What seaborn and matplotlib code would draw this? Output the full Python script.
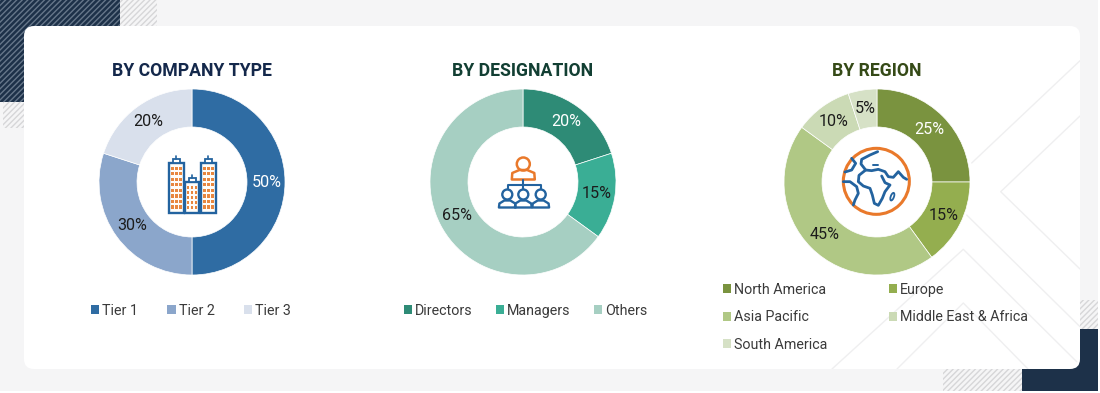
import matplotlib
matplotlib.use("Agg")
import matplotlib.pyplot as plt
import seaborn as sns
from matplotlib.patches import Rectangle, FancyBboxPatch, Circle, Ellipse, Patch, Polygon
from matplotlib.lines import Line2D

# ---- data ----
company_labels = ["Tier 1", "Tier 2", "Tier 3"]
company_values = [50, 30, 20]
designation_labels = ["Directors", "Managers", "Others"]
designation_values = [20, 15, 65]
region_labels = ["North America", "Europe", "Asia Pacific", "Middle East & Africa", "South America"]
region_values = [25, 15, 45, 10, 5]

company_colors = ["#2f6ca3", "#8ba6cb", "#d9e0ec"]
designation_colors = ["#2e8b76", "#3aae95", "#a6cfc2"]
region_colors = ["#7a933f", "#94ae4f", "#b0c885", "#cbdab5", "#d6e1c6"]

sns.set_theme(style="white")
FONT = "Roboto"
plt.rcParams["font.family"] = [FONT, "DejaVu Sans"]
plt.rcParams["hatch.linewidth"] = 1.0

W, H = 1100, 393
fig = plt.figure(figsize=(W / 100, H / 100), dpi=100, facecolor="white")

# ---- background in pixel coordinates ----
bg = fig.add_axes([0, 0, 1, 1], zorder=0)
bg.set_xlim(0, W); bg.set_ylim(H, 0); bg.axis("off")
NAVY = "#1d3149"
HATCH = "//////"


def rect(ax, x0, y0, x1, y1, **kw):
    kw.setdefault("linewidth", 0)
    ax.add_patch(Rectangle((x0, y0), x1 - x0, y1 - y0, **kw))


rect(bg, 0, 0, 1098, 391, facecolor="#f5f5f6")
rect(bg, 120, 0, 157, 26, facecolor="#f5f5f6", edgecolor="#d6d6d8", hatch=HATCH)
rect(bg, 3, 102, 24, 128, facecolor="#f5f5f6", edgecolor="#d6d6d8", hatch=HATCH)
rect(bg, 1080, 300, 1098, 329, facecolor="#f5f5f6", edgecolor="#d6d6d8", hatch=HATCH)
rect(bg, 943, 369, 1022, 391, facecolor="#f5f5f6", edgecolor="#d6d6d8", hatch=HATCH)
rect(bg, 0, 0, 120, 102, facecolor=NAVY, edgecolor="#66778a", hatch=HATCH)
rect(bg, 1022, 329, 1098, 391, facecolor=NAVY)
card = FancyBboxPatch((24, 26), 1056, 343, boxstyle="round,pad=0,rounding_size=10",
                      facecolor="white", edgecolor="none")
bg.add_patch(card)
for pts in [
    [(971.7, 163), (1080, 60.7)],
    [(1080, 116), (1000.7, 191.7), (1080, 269)],
    [(966.7, 215), (1080, 326.7)],
    [(832, 369), (963.3, 249.3), (1076.7, 361.7)],
    [(897, 369), (963.3, 303), (1028, 369)],
]:
    xs, ys = zip(*pts)
    ln = Line2D(xs, ys, color="#efeff0", lw=1.0)
    bg.add_line(ln)
    ln.set_clip_path(card)


# ---- donuts ----
def donut(cx, cy, values, colors, title, title_color, title_x, white_idx):
    R = 93.0
    m = 1.02
    s = R * m
    ax = fig.add_axes([(cx - s) / W, 1 - (cy + s) / H, 2 * s / W, 2 * s / H], zorder=2)
    wedges, texts, autos = ax.pie(
        values, colors=sns.color_palette(colors), startangle=90, counterclock=False,
        radius=1, pctdistance=0.80, autopct=lambda p: f"{p:.0f}%",
        wedgeprops=dict(width=38 / 93, edgecolor="white", linewidth=0.5),
        textprops=dict(fontsize=11.6, family=FONT),
    )
    ax.set_xlim(-m, m); ax.set_ylim(-m, m)
    for i, t in enumerate(autos):
        t.set_color("white" if i in white_idx else "#1c1c1c")
    bg.text(title_x, 71, title, ha="center", va="center", fontsize=12.7, fontweight="bold",
            color=title_color, family=FONT)
    return ax


donut(192, 182, company_values, company_colors, "BY COMPANY TYPE", "#14284b", 192, {0})
donut(523, 182, designation_values, designation_colors, "BY DESIGNATION", "#123f33", 523, {0})
donut(877, 182, region_values, region_colors, "BY REGION", "#354a17", 877, {0})


# ---- legends ----
def legend(x, y, labels, colors, ncol=1, colsp=2.0):
    handles = [Patch(facecolor=c, edgecolor="none") for c in colors]
    leg = fig.legend(
        handles, labels, loc="upper left", bbox_to_anchor=(x / W, 1 - y / H), ncol=ncol,
        frameon=False, fontsize=10.3, handlelength=0.58, handleheight=0.6, handletextpad=0.2,
        columnspacing=colsp, labelspacing=0.93, borderpad=0, borderaxespad=0,
        labelcolor="#3a3a3a",
    )
    leg.set_zorder(3)
    return leg


legend(91, 304, company_labels, company_colors, ncol=3, colsp=2.05)
legend(404, 304, designation_labels, designation_colors, ncol=3, colsp=1.62)
order = [0, 2, 4, 1, 3]
legend(723, 283, [region_labels[i] for i in order], [region_colors[i] for i in order], ncol=2, colsp=4.28)

# ---- centre icons, on an overlay in pixel coordinates ----
ic = fig.add_axes([0, 0, 1, 1], zorder=4)
ic.set_xlim(0, W); ic.set_ylim(H, 0); ic.axis("off"); ic.patch.set_alpha(0)
BLUE = "#23639f"
ORANGE = "#e9792b"

# buildings
for (x0, x1, y0, rows) in [(168.5, 184, 163, 8), (185, 199, 182, 5), (200.5, 216, 163, 8)]:
    rect(ic, x0, y0, x1, 212.5, facecolor="#fffdf9", edgecolor=BLUE, linewidth=1.7)
    mx = (x0 + x1) / 2
    rect(ic, mx - 3.5, y0 - 4, mx + 3.5, y0, facecolor="white", edgecolor=BLUE, linewidth=1.3)
    ic.add_line(Line2D([mx, mx], [y0 - 7, y0 - 4], color=BLUE, lw=1.2))
    step = (212.5 - y0 - 5) / rows
    for r in range(rows):
        for c in (-3.9, 0, 3.9):
            rect(ic, mx + c - 1.35, y0 + 3.5 + r * step, mx + c + 1.35, y0 + 3.5 + r * step + 3.3,
                 facecolor="#e8873f")


# person icon
def person(cx, head_y, head_r, body_top, body_bot, half, color, lw):
    ic.add_patch(Circle((cx, head_y), head_r, facecolor="none", edgecolor=color, linewidth=lw))
    ic.add_patch(Polygon(
        [(cx - half, body_bot), (cx - half + 0.5, body_top + 3), (cx - head_r * 0.6, body_top),
         (cx + head_r * 0.6, body_top), (cx + half - 0.5, body_top + 3), (cx + half, body_bot)],
        closed=True, facecolor="none", edgecolor=color, linewidth=lw, joinstyle="round"))


person(523.3, 164, 6.5, 170, 179.5, 11.5, ORANGE, 1.8)
ic.add_line(Line2D([523.3, 523.3], [179.5, 189], color=BLUE, lw=1.5))
ic.add_line(Line2D([507.5, 507.5, 541, 541], [189, 184.5, 184.5, 189], color=BLUE, lw=1.5))
for cx in (507.3, 523.3, 540.7):
    person(cx, 194.5, 5, 200.5, 207.5, 8.4, BLUE, 1.7)

# globe
gx, gy, gs = 835, 140, 1 / 3
def gp(pts):
    return [gx + a * gs for a, b in pts], [gy + b * gs for a, b in pts]

for pts in [
    [(128, 35), (105, 45), (80, 58), (78, 72), (92, 90), (110, 92), (130, 88), (150, 95),
     (160, 110), (175, 112), (190, 95), (205, 112), (215, 118)],
    [(92, 90), (72, 106), (70, 125), (85, 138), (105, 145), (112, 165), (118, 190), (130, 196),
     (142, 175), (150, 155), (165, 135), (150, 128), (140, 108)],
    [(50, 55), (62, 70), (50, 90), (30, 96)],
    [(25, 125), (45, 125), (65, 140), (70, 160), (60, 180), (55, 195)],
]:
    xs, ys = gp(pts)
    ic.add_line(Line2D(xs, ys, color=BLUE, lw=2.0, solid_joinstyle="round"))
ic.add_line(Line2D(*gp([(115, 76), (130, 76)]), color=BLUE, lw=1.4))
ic.add_patch(Ellipse((gx + 172 * gs, gy + 170 * gs), 3.2, 8, angle=20, facecolor="none",
                     edgecolor=BLUE, linewidth=1.3))
ic.add_patch(Circle((gx + 124 * gs, gy + 124 * gs), 33, facecolor="none", edgecolor=ORANGE, linewidth=2.2))

fig.savefig("out.png", dpi=100, facecolor="white")
